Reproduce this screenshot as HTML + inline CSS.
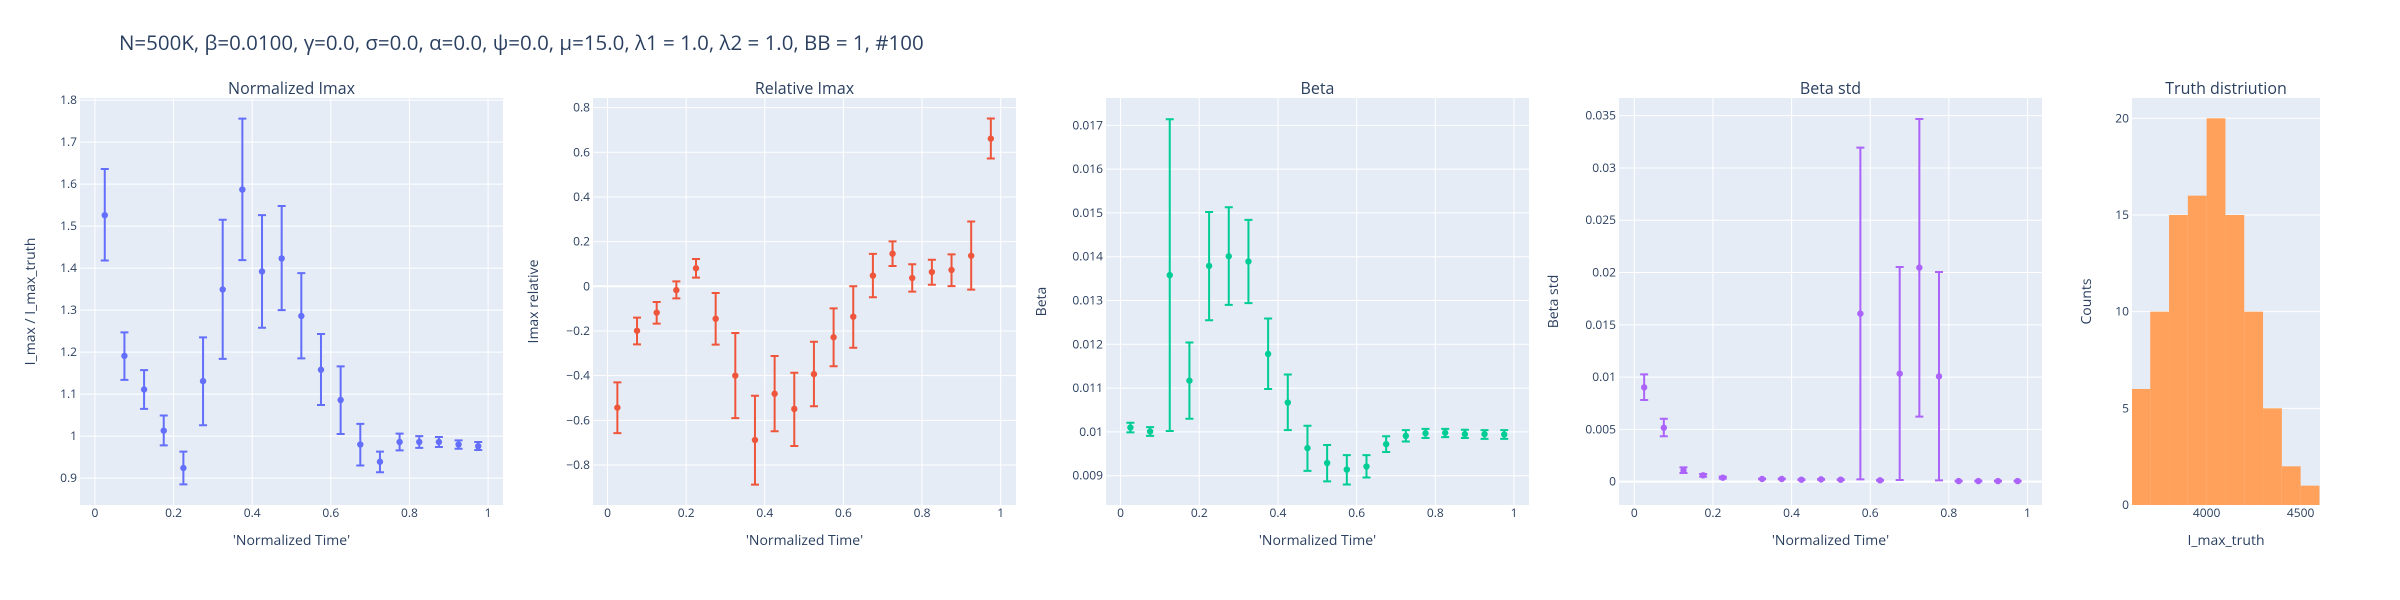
<!DOCTYPE html>
<html><head><meta charset="utf-8"><style>
body{margin:0;background:#fff;}
svg{display:block;font-family:"Open Sans","Liberation Sans",sans-serif;}
</style></head><body>
<svg id="chart" width="2400" height="600" xmlns="http://www.w3.org/2000/svg">
<text x="119" y="50" font-size="20.5" fill="#2a3f5f">N=500K, β=0.0100, γ=0.0, σ=0.0,  α=0.0, ψ=0.0, μ=15.0, λ1 = 1.0, λ2 = 1.0, BB = 1, #100</text>
</svg>
<script>
const times=[0.025,0.075,0.125,0.175,0.225,0.275,0.325,0.375,0.425,0.475,0.525,0.575,0.625,0.675,0.725,0.775,0.825,0.875,0.925,0.975];
const normVal=[1.526,1.191,1.111,1.013,0.924,1.131,1.349,1.587,1.392,1.423,1.286,1.158,1.086,0.980,0.939,0.986,0.986,0.986,0.980,0.976];
const normHi=[1.636,1.247,1.157,1.049,0.963,1.235,1.515,1.756,1.526,1.548,1.388,1.243,1.166,1.029,0.963,1.006,1.000,0.998,0.990,0.986];
const normLo=[1.418,1.134,1.065,0.978,0.885,1.026,1.184,1.419,1.258,1.300,1.185,1.074,1.005,0.930,0.914,0.966,0.972,0.974,0.970,0.967];
const relVal=[-0.543,-0.199,-0.118,-0.017,0.081,-0.145,-0.400,-0.688,-0.481,-0.549,-0.393,-0.228,-0.136,0.048,0.146,0.037,0.064,0.073,0.137,0.661];
const relHi=[-0.430,-0.140,-0.070,0.022,0.122,-0.030,-0.209,-0.490,-0.312,-0.387,-0.248,-0.099,0.000,0.145,0.201,0.099,0.119,0.143,0.290,0.751];
const relLo=[-0.657,-0.260,-0.167,-0.054,0.039,-0.261,-0.590,-0.888,-0.649,-0.715,-0.537,-0.358,-0.275,-0.049,0.091,-0.024,0.007,0.001,-0.015,0.572];
const betaVal=[0.01010,0.01001,0.01358,0.01117,0.01379,0.01401,0.01389,0.01178,0.01067,0.00963,0.00929,0.00914,0.00921,0.00972,0.00991,0.00997,0.00998,0.00995,0.00995,0.00994];
const betaHi=[0.01021,0.01011,0.01714,0.01204,0.01502,0.01513,0.01484,0.01259,0.01131,0.01014,0.00970,0.00947,0.00947,0.00990,0.01004,0.01007,0.01007,0.01005,0.01004,0.01004];
const betaLo=[0.00999,0.00991,0.01002,0.01030,0.01255,0.01290,0.01294,0.01098,0.01004,0.00911,0.00887,0.00880,0.00896,0.00954,0.00978,0.00986,0.00988,0.00986,0.00984,0.00984];
const stdVal=[0.00902,0.00516,0.00108,0.00061,0.00038,null,0.00026,0.00026,0.00019,0.00022,0.00019,0.01607,0.00013,0.01033,0.02047,0.01007,0.00006,0.00006,0.00006,0.00006];
const stdHi=[0.01026,0.00602,0.00137,0.00073,0.00048,null,0.00029,0.00029,0.00022,0.00025,0.00022,0.03194,0.00016,0.02053,0.03468,0.02005,0.00009,0.00009,0.00009,0.00009];
const stdLo=[0.00781,0.00434,0.00083,0.00048,0.00029,null,0.00023,0.00023,0.00016,0.00019,0.00016,0.00022,0.00010,0.00016,0.00622,0.00013,0.00003,0.00003,0.00003,0.00003];
const histEdges=[3600,3700,3800,3900,4000,4100,4200,4300,4400,4500,4600];
const histCounts=[6,10,15,16,20,15,10,5,2,1];
const timeTicks=[0,0.2,0.4,0.6,0.8,1];
const normTicks=[0.9,1,1.1,1.2,1.3,1.4,1.5,1.6,1.7,1.8];
const relTicks=[-0.8,-0.6,-0.4,-0.2,0,0.2,0.4,0.6,0.8];
const betaTicks=[0.009,0.01,0.011,0.012,0.013,0.014,0.015,0.016,0.017];
const stdTicks=[0,0.005,0.01,0.015,0.02,0.025,0.03,0.035];
const histXTicks=[4000,4500];
const histYTicks=[0,5,10,15,20];

const NS="http://www.w3.org/2000/svg";
const svg=document.getElementById('chart');
function mk(tag,attrs,parent){const e=document.createElementNS(NS,tag);for(const k in attrs)e.setAttribute(k,attrs[k]);(parent||svg).appendChild(e);return e;}
function fmt(v){let s=String(+v.toFixed(4));return v<0?'\u2212'+s.slice(1):s;}
const TOP=98,BOT=505;

function panel(cfg){
  const g=mk('g',{});
  
  
  const xs=v=>cfg.L+(v-cfg.x0)/(cfg.x1-cfg.x0)*(cfg.R-cfg.L);
  const ys=v=>BOT-(v-cfg.y0)/(cfg.y1-cfg.y0)*(BOT-TOP);
  const bg=mk('rect',{x:cfg.L,y:TOP,width:cfg.R-cfg.L,height:BOT-TOP,fill:'#E5ECF6'},g);
  
  
  cfg.xt.forEach(t=>{
    if(cfg.xgrid){const l=mk('line',{x1:xs(t),x2:xs(t),y1:TOP,y2:BOT,stroke:'#fff','stroke-width':1},g);
    }
    const tx=mk('text',{x:xs(t),y:517,'font-size':12,fill:'#2a3f5f','text-anchor':'middle'},g);
    tx.textContent=fmt(t);
    
  });
  cfg.yt.forEach(t=>{
    const l=mk('line',{x1:cfg.L,x2:cfg.R,y1:ys(t),y2:ys(t),stroke:'#fff','stroke-width':(t===0&&cfg.zero)?2:1},g);
    
    const tx=mk('text',{x:cfg.L-3,y:ys(t)+4,'font-size':12,fill:'#2a3f5f','text-anchor':'end'},g);
    tx.textContent=fmt(t);
    
  });
  const cx=(cfg.L+cfg.R)/2;
  const ti=mk('text',{x:cx,y:94,'font-size':16,fill:'#2a3f5f','text-anchor':'middle'},g);
  ti.textContent=cfg.title;
  const xt=mk('text',{x:cx,y:545,'font-size':14,fill:'#2a3f5f','text-anchor':'middle'},g);
  xt.textContent=cfg.xlabel;
  const yt=mk('text',{x:cfg.yx,y:(TOP+BOT)/2,'font-size':14,fill:'#2a3f5f','text-anchor':'middle',transform:`rotate(-90 ${cfg.yx} ${(TOP+BOT)/2})`},g);
  yt.textContent=cfg.ylabel;
  return {g,xs,ys};
}

function errPanel(cfg,vals,his,los){
  const p=panel(cfg);
  times.forEach((t,i)=>{
    if(vals[i]===null)return;
    const x=p.xs(t),yh=p.ys(his[i]),yl=p.ys(los[i]);
    const eb=mk('path',{d:`M${x},${yh}V${yl}M${x-4},${yh}H${x+4}M${x-4},${yl}H${x+4}`,stroke:cfg.color,'stroke-width':2,fill:'none'},p.g);
    
    const c=mk('circle',{cx:x,cy:p.ys(vals[i]),r:3.2,fill:cfg.color},p.g);
    
  });
}

errPanel({name:'normalized-imax',L:80,R:503,x0:-0.038,x1:1.038,y0:0.836,y1:1.805,xt:timeTicks,yt:normTicks,xgrid:true,title:'Normalized Imax',xlabel:"'Normalized Time'",ylabel:'I_max / I_max_truth',yx:35,color:'#636efa'},normVal,normHi,normLo);
errPanel({name:'relative-imax',L:593,R:1016,x0:-0.037,x1:1.039,y0:-0.979,y1:0.843,xt:timeTicks,yt:relTicks,xgrid:true,zero:true,title:'Relative Imax',xlabel:"'Normalized Time'",ylabel:'Imax relative',yx:538,color:'#EF553B'},relVal,relHi,relLo);
errPanel({name:'beta',L:1106,R:1529,x0:-0.037,x1:1.038,y0:0.008331,y1:0.017624,xt:timeTicks,yt:betaTicks,xgrid:true,title:'Beta',xlabel:"'Normalized Time'",ylabel:'Beta',yx:1046,color:'#00cc96'},betaVal,betaHi,betaLo);
errPanel({name:'beta-std',L:1619,R:2042,x0:-0.039,x1:1.037,y0:-0.00223,y1:0.03669,xt:timeTicks,yt:stdTicks,xgrid:true,zero:true,title:'Beta std',xlabel:"'Normalized Time'",ylabel:'Beta std',yx:1558,color:'#ab63fa'},stdVal,stdHi,stdLo);

const hp=panel({name:'truth-distribution',L:2132,R:2320,x0:3603,x1:4603,y0:0,y1:21.05,xt:histXTicks,yt:histYTicks,xgrid:false,title:'Truth distriution',xlabel:'I_max_truth',ylabel:'Counts',yx:2091});
histCounts.forEach((c,i)=>{
  const x0=Math.max(hp.xs(histEdges[i]),2132),x1=Math.min(hp.xs(histEdges[i+1]),2320);
  const r=mk('rect',{x:x0,y:hp.ys(c),width:x1-x0,height:BOT-hp.ys(c),fill:'#FFA15A'},hp.g);
  
  
});
</script>
</body></html>
